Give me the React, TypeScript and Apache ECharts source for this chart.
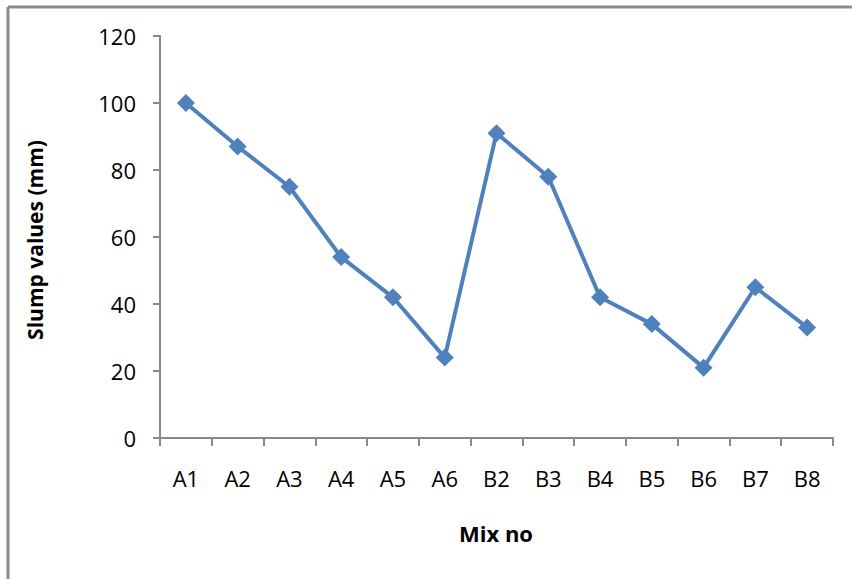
import React, { useEffect, useRef } from "react";
import * as echarts from "echarts";

const categories = ["A1", "A2", "A3", "A4", "A5", "A6", "B2", "B3", "B4", "B5", "B6", "B7", "B8"];
const slumpValues = [100, 87, 75, 54, 42, 24, 91, 78, 42, 34, 21, 45, 33];
const yTicks = { min: 0, max: 120, interval: 20 };
const xTitle = "Mix no";
const yTitle = "Slump values (mm)";

export default function App() {
  const ref = useRef<HTMLDivElement>(null);
  useEffect(() => {
    if (!ref.current) return;
    const chart = echarts.init(ref.current, undefined, { renderer: "svg" });
    const font = "'Open Sans', 'Liberation Sans', sans-serif";
    chart.setOption({
      animation: false,
      backgroundColor: "#ffffff",
      grid: { left: 160, right: 19, top: 36, bottom: 141, containLabel: false },
      xAxis: {
        type: "category",
        data: categories,
        boundaryGap: true,
        axisLine: { lineStyle: { color: "#888888", width: 2 } },
        axisTick: { show: true, length: 8, lineStyle: { color: "#888888", width: 2 } },
        axisLabel: { color: "#000", fontSize: 22, fontFamily: font, margin: 29 },
      },
      yAxis: {
        type: "value",
        min: yTicks.min,
        max: yTicks.max,
        interval: yTicks.interval,
        axisLine: { show: true, lineStyle: { color: "#888888", width: 2 } },
        axisTick: { show: true, inside: false, length: 7, lineStyle: { color: "#888888", width: 2 } },
        splitLine: { show: false },
        axisLabel: { color: "#000", fontSize: 22, fontFamily: font, margin: 24 },
      },
      series: [
        {
          type: "line",
          data: slumpValues,
          symbol: "diamond",
          symbolSize: 18,
          lineStyle: { color: "#4F81BD", width: 4 },
          itemStyle: { color: "#4F81BD" },
        },
      ],
      graphic: [
        { type: "line", shape: { x1: 8, y1: 7, x2: 852, y2: 7 }, style: { stroke: "#8c8c8c", lineWidth: 3 } },
        { type: "line", shape: { x1: 8, y1: 7, x2: 8, y2: 579 }, style: { stroke: "#8c8c8c", lineWidth: 3 } },
        {
          type: "text",
          x: 496,
          y: 533,
          style: { text: xTitle, font: `bold 22px ${font}`, fill: "#000", align: "center", verticalAlign: "middle" },
        },
        {
          type: "text",
          x: 35,
          y: 240,
          rotation: Math.PI / 2,
          style: { text: yTitle, font: `bold 21px ${font}`, fill: "#000", align: "center", verticalAlign: "middle" },
        },
      ],
    });
    return () => chart.dispose();
  }, []);
  return (
    <div
      ref={ref}
      style={{ position: "fixed", left: 0, top: 0, width: 852, height: 579, background: "#fff" }}
    />
  );
}
